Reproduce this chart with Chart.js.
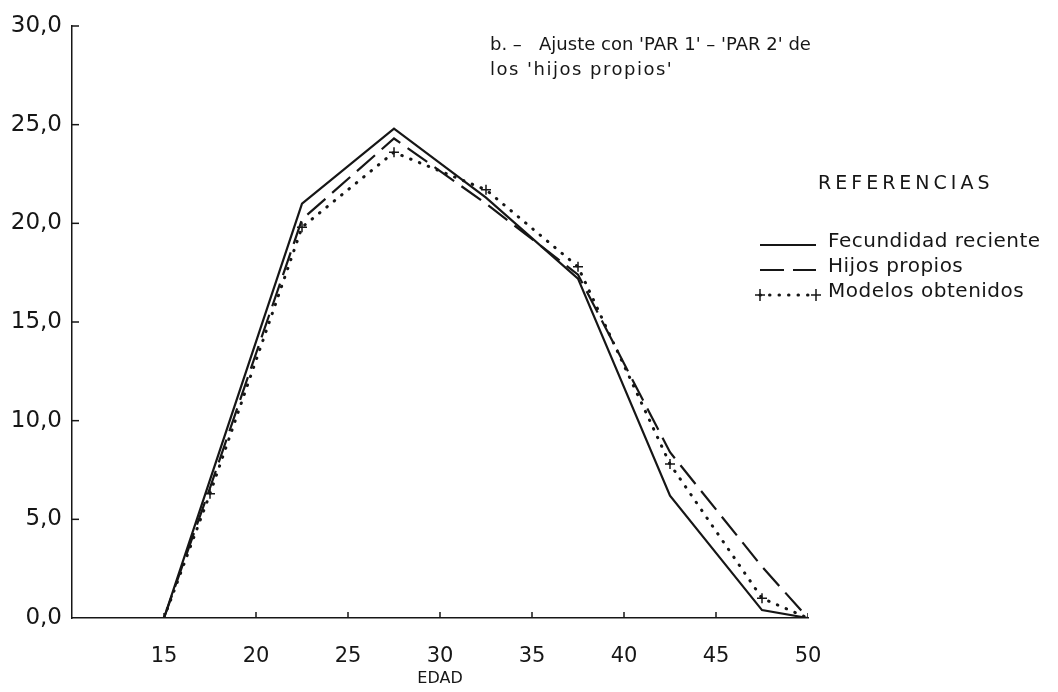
<!DOCTYPE html>
<html>
<head>
<meta charset="utf-8">
<script src="https://cdn.jsdelivr.net/npm/chart.js@4/dist/chart.umd.min.js"></script>
<style>
  html, body { margin: 0; padding: 0; background: #fff; overflow: hidden; }
</style>
</head>
<body>
<canvas id="chart" width="1058" height="692"></canvas>
<script>
// edades (centro de cada grupo quinquenal) y tasas
const edades = [15, 17.5, 22.5, 27.5, 32.5, 37.5, 42.5, 47.5, 50];
const fecundidadReciente = [0, 7.0, 21.0, 24.8, 21.3, 17.2, 6.2, 0.4, 0];
const hijosPropios = [0, 6.6, 20.2, 24.3, 21.0, 17.4, 8.4, 2.6, 0];
const modelosObtenidos = [0, 6.3, 19.8, 23.6, 21.7, 17.8, 7.8, 1.0, 0];

const xTicks = [15, 20, 25, 30, 35, 40, 45, 50];
const yTicks = [0, 5, 10, 15, 20, 25, 30];

const tituloLineas = ["b. \u2013   Ajuste con 'PAR 1' \u2013 'PAR 2' de", "los 'hijos propios'"];
const leyendaTitulo = "REFERENCIAS";
const leyendaNombres = ["Fecundidad reciente", "Hijos propios", "Modelos obtenidos"];

const INK = "#161616";
const FONT = "DejaVu Sans";

function pts(ys) {
  return edades.map((x, i) => ({ x: x, y: ys[i] }));
}

// marcas cortas hacia dentro en los ejes, titulo y leyenda
const decoPlugin = {
  id: "deco",
  afterDraw(chart) {
    const ctx = chart.ctx;
    const xs = chart.scales.x;
    const ys = chart.scales.y;
    const area = chart.chartArea;
    ctx.save();
    ctx.strokeStyle = INK;
    ctx.lineWidth = 1.5;
    yTicks.forEach(v => {
      if (v === 0) return;
      const py = ys.getPixelForValue(v);
      ctx.beginPath();
      ctx.moveTo(area.left, py);
      ctx.lineTo(area.left + 7, py);
      ctx.stroke();
    });
    xTicks.forEach(v => {
      if (v === 15 || v === 50) return;
      const px = xs.getPixelForValue(v);
      ctx.beginPath();
      ctx.moveTo(px, area.bottom);
      ctx.lineTo(px, area.bottom - 6);
      ctx.stroke();
    });

    // titulo
    ctx.fillStyle = INK;
    ctx.font = "18px '" + FONT + "'";
    ctx.textBaseline = "middle";
    ctx.textAlign = "left";
    ctx.letterSpacing = "0px";
    ctx.fillText(tituloLineas[0], 490, 45);
    ctx.letterSpacing = "1.5px";
    ctx.fillText(tituloLineas[1], 490, 70);

    // leyenda
    ctx.font = "19px '" + FONT + "'";
    ctx.letterSpacing = "4px";
    ctx.fillText(leyendaTitulo, 818, 184);
    ctx.letterSpacing = "0.5px";
    ctx.font = "20px '" + FONT + "'";
    const rows = [242, 267, 292];
    chart.data.datasets.forEach((ds, i) => {
      const y = rows[i];
      ctx.save();
      ctx.strokeStyle = ds.borderColor;
      ctx.lineWidth = ds.borderWidth;
      ctx.lineCap = ds.borderCapStyle || "butt";
      ctx.setLineDash(ds.borderDash || []);
      ctx.beginPath();
      ctx.moveTo(760, y + 3);
      ctx.lineTo(816, y + 3);
      ctx.stroke();
      ctx.restore();
      if (i === 2) {
        ctx.save();
        ctx.lineWidth = 1.5;
        [760, 816].forEach(cx => {
          ctx.beginPath();
          ctx.moveTo(cx - 5, y + 3); ctx.lineTo(cx + 5, y + 3);
          ctx.moveTo(cx, y - 3); ctx.lineTo(cx, y + 9);
          ctx.stroke();
        });
        ctx.restore();
      }
      ctx.fillText(leyendaNombres[i], 828, y);
    });
    ctx.restore();
  }
};

new Chart(document.getElementById("chart"), {
  type: "line",
  data: {
    datasets: [
      {
        label: leyendaNombres[0],
        data: pts(fecundidadReciente),
        borderColor: INK,
        borderWidth: 2.2,
        pointRadius: 0,
        tension: 0
      },
      {
        label: leyendaNombres[1],
        data: pts(hijosPropios),
        borderColor: INK,
        borderWidth: 2.2,
        borderDash: [24, 9],
        pointRadius: 0,
        tension: 0
      },
      {
        label: leyendaNombres[2],
        data: pts(modelosObtenidos),
        borderColor: INK,
        borderWidth: 3,
        borderDash: [0.5, 9],
        borderCapStyle: "round",
        pointStyle: "cross",
        pointRadius: 5,
        pointBorderWidth: 1.5,
        pointBorderColor: INK,
        tension: 0
      }
    ]
  },
  options: {
    responsive: false,
    animation: false,
    layout: { padding: { top: 26, right: 250, left: 0, bottom: 0 } },
    plugins: {
      legend: { display: false },
      title: { display: false },
      tooltip: { enabled: false }
    },
    scales: {
      x: {
        type: "linear",
        min: 10,
        max: 50,
        afterFit(scale) { scale.height = 74; },
        afterBuildTicks(scale) { scale.ticks = xTicks.map(v => ({ value: v })); },
        grid: { drawOnChartArea: false, drawTicks: false },
        border: { color: INK, width: 1.5 },
        ticks: {
          color: INK,
          padding: 26,
          font: { family: FONT, size: 21 },
          callback: v => String(v)
        },
        title: {
          display: true,
          text: "EDAD",
          color: INK,
          padding: { top: 2 },
          font: { family: FONT, size: 16 }
        }
      },
      y: {
        min: 0,
        max: 30,
        afterFit(scale) { scale.width = 72; },
        afterBuildTicks(scale) { scale.ticks = yTicks.map(v => ({ value: v })); },
        grid: { drawOnChartArea: false, drawTicks: false },
        border: { color: INK, width: 1.5 },
        ticks: {
          color: INK,
          padding: 10,
          font: { family: FONT, size: 23 },
          callback: v => v.toFixed(1).replace(".", ",")
        }
      }
    }
  },
  plugins: [decoPlugin]
});
</script>
</body>
</html>
